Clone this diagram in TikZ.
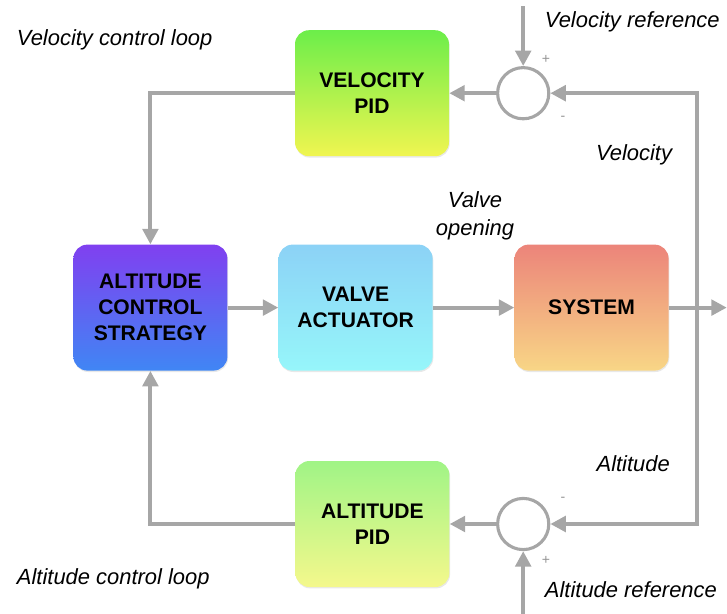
\documentclass[tikz,border=0pt]{standalone}
\usepackage{fontspec}
\setmainfont{Liberation Sans}
\usepackage{tikz}
\usetikzlibrary{arrows.meta,positioning,shadows}
\definecolor{linegray}{RGB}{166,166,166}
\definecolor{velTop}{RGB}{108,238,74}
\definecolor{velBot}{RGB}{240,245,80}
\definecolor{stratTop}{RGB}{128,64,240}
\definecolor{stratBot}{RGB}{64,134,244}
\definecolor{valveTop}{RGB}{140,210,246}
\definecolor{valveBot}{RGB}{150,246,250}
\definecolor{sysTop}{RGB}{236,132,122}
\definecolor{sysBot}{RGB}{248,214,134}
\definecolor{altTop}{RGB}{160,244,134}
\definecolor{altBot}{RGB}{244,248,140}

\begin{document}
\begin{tikzpicture}[
  block/.style={rounded corners=10pt, minimum width=3.85cm, minimum height=3.15cm, align=center,
    font=\fontsize{15}{18.5}\selectfont\bfseries,
    drop shadow={opacity=0.18, shadow xshift=0.5pt, shadow yshift=-1pt}},
  grad/.style 2 args={block, top color=#1, bottom color=#2},
  sum/.style={circle, draw=linegray, line width=2.2pt, minimum size=1.28cm, fill=white},
  flow/.style={draw=linegray, line width=2.8pt, -{Triangle[length=11pt,width=11pt]}},
  lbl/.style={font=\fontsize{15.6}{20}\selectfont\itshape},
  sign/.style={font=\fontsize{10}{10}\selectfont, text=linegray!90!black},
]
\useasboundingbox (0,0) rectangle (18.175,-15.35);

% blocks
\node[grad={velTop}{velBot}] (vpid) at (9.3,-2.33) {VELOCITY\\PID};
\node[grad={stratTop}{stratBot}] (strat) at (3.76,-7.69) {ALTITUDE\\CONTROL\\STRATEGY};
\node[grad={valveTop}{valveBot}] (valve) at (8.89,-7.69) {VALVE\\ACTUATOR};
\node[grad={sysTop}{sysBot}] (sys) at (14.79,-7.69) {SYSTEM};
\node[grad={altTop}{altBot}] (apid) at (9.31,-13.1) {ALTITUDE\\PID};

% summing junctions
\node[sum] (vsum) at (13.08,-2.33) {};
\node[sum] (asum) at (13.08,-13.1) {};

\coordinate (vref) at (13.08,-0.15);
\coordinate (aref) at (13.08,-15.35);
\coordinate (out) at (18.17,-7.69);
\coordinate (tap) at (17.43,-7.69);

% forward path
\draw[flow] (strat) -- (valve);
\draw[flow] (valve) -- (sys);
\draw[flow] (sys) -- (out);

% feedback
\draw[flow] (tap) |- (vsum.east);
\draw[flow] (tap) |- (asum.east);
\draw[flow] (vref) -- (vsum.north);
\draw[flow] (aref) -- (asum.south);
\draw[flow] (vsum) -- (vpid);
\draw[flow] (asum) -- (apid);
\draw[flow] (vpid.west) -| (strat.north);
\draw[flow] (apid.west) -| (strat.south);

% labels
\node[lbl, anchor=west] (vloop) at (0.3,-1.0) {Velocity control loop};
\node[lbl, anchor=west] (aloop) at (0.3,-14.48) {Altitude control loop};
\node[lbl, anchor=west] (vreftxt) at (13.5,-0.55) {Velocity reference};
\node[lbl, anchor=west] (areftxt) at (13.5,-14.75) {Altitude reference};
\node[lbl] (veltxt) at (15.85,-3.875) {Velocity};
\node[lbl] (alttxt) at (15.83,-11.58) {Altitude};
\node[lbl, align=center] (opentxt) at (11.875,-5.4) {Valve\\opening};

\node[sign] (vplus) at (13.65,-1.475) {+};
\node[sign] (vminus) at (14.075,-2.95) {-};
\node[sign] (aminus) at (14.075,-12.475) {-};
\node[sign] (aplus) at (13.65,-14.0) {+};
\end{tikzpicture}
\end{document}
